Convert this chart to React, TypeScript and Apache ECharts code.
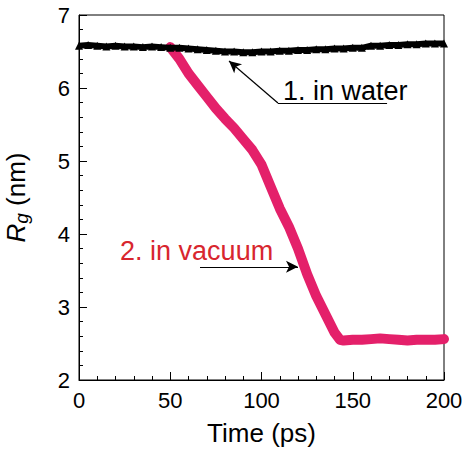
import React, { useEffect, useRef } from "react";
import * as echarts from "echarts";

const waterTime = [0,5,10,15,20,25,30,35,40,45,50,55,60,65,70,75,80,85,90,95,100,105,110,115,120,125,130,135,140,145,150,155,160,165,170,175,180,185,190,195,200];
const waterRg = [6.58,6.59,6.58,6.57,6.58,6.57,6.57,6.56,6.57,6.56,6.55,6.55,6.54,6.53,6.52,6.51,6.50,6.50,6.49,6.49,6.50,6.50,6.51,6.51,6.52,6.52,6.53,6.53,6.54,6.54,6.55,6.55,6.58,6.58,6.59,6.59,6.60,6.60,6.61,6.61,6.61];

const vacuumTime = [50,55,60,65,70,75,80,85,90,95,100,105,110,115,120,125,130,135,140,143,145,150,155,160,165,170,175,180,185,190,195,200];
const vacuumRg = [6.56,6.40,6.20,6.04,5.88,5.72,5.58,5.45,5.30,5.15,4.95,4.65,4.35,4.10,3.80,3.45,3.15,2.90,2.65,2.55,2.54,2.55,2.55,2.56,2.57,2.56,2.55,2.54,2.55,2.55,2.55,2.56];

const xTicks = [0, 50, 100, 150, 200];
const yTicks = [2, 3, 4, 5, 6, 7];

const FONT = "'Liberation Sans', Arial, Helvetica, sans-serif";

export default function App() {
  const ref = useRef<HTMLDivElement>(null);
  useEffect(() => {
    if (!ref.current) return;
    const chart = echarts.init(ref.current, null, { renderer: "svg" });
    const water = waterTime.map((t, i) => [t, waterRg[i]]);
    const vacuum = vacuumTime.map((t, i) => [t, vacuumRg[i]]);
    chart.setOption({
      animation: false,
      backgroundColor: "#fff",
      textStyle: { fontFamily: FONT },
      grid: {
        left: 79, top: 15, right: 24, bottom: 70,
        outerBoundsMode: "none",
        containLabel: false,
        show: true, borderColor: "#000", borderWidth: 1, backgroundColor: "transparent",
      },
      xAxis: {
        type: "value",
        min: xTicks[0],
        max: xTicks[xTicks.length - 1],
        interval: 50,
        name: "Time (ps)",
        nameLocation: "middle",
        nameGap: 40,
        nameTextStyle: { fontSize: 26, color: "#000", fontFamily: FONT },
        axisLine: { show: true, lineStyle: { color: "#000", width: 1 } },
        axisTick: { show: true, inside: true, length: 8, lineStyle: { color: "#000" } },
        minorTick: { show: true, splitNumber: 5, length: 4, lineStyle: { color: "#000" } },
        splitLine: { show: false },
        axisLabel: { fontSize: 22, color: "#000", margin: 9, fontFamily: FONT },
      },
      yAxis: {
        type: "value",
        min: yTicks[0],
        max: yTicks[yTicks.length - 1],
        interval: 1,
        name: "{r|R}{g|g}{n| (nm)}",
        nameLocation: "middle",
        nameRotate: 90,
        nameGap: 48,
        nameTextStyle: {
          color: "#000",
          fontFamily: FONT,
          rich: {
            r: { fontSize: 26, fontStyle: "italic", fontFamily: FONT, lineHeight: 30, color: "#000" },
            g: { fontSize: 19, fontStyle: "italic", fontFamily: FONT, lineHeight: 18, verticalAlign: "bottom", color: "#000" },
            n: { fontSize: 26, fontFamily: FONT, lineHeight: 30, color: "#000" },
          },
        },
        axisLine: { show: true, lineStyle: { color: "#000", width: 1 } },
        axisTick: { show: true, inside: true, length: 8, lineStyle: { color: "#000" } },
        minorTick: { show: true, splitNumber: 5, length: 4, lineStyle: { color: "#000" } },
        splitLine: { show: false },
        axisLabel: { fontSize: 22, color: "#000", margin: 9, fontFamily: FONT },
      },
      series: [
        {
          type: "line",
          data: water,
          lineStyle: { color: "#000", width: 6 },
          itemStyle: { color: "#000" },
          symbol: "triangle",
          symbolSize: 8,
          showSymbol: true,
          silent: true,
          z: 3,
          markLine: {
            silent: true,
            animation: false,
            label: { show: false },
            lineStyle: { color: "#000", width: 1.2, type: "solid" },
            symbolSize: [9, 12],
            data: [
              [{ coord: [168.8, 5.795], symbol: "none" }, { coord: [109, 5.795], symbol: "none" }],
              [{ coord: [109, 5.795], symbol: "none" }, { coord: [82.2, 6.37], symbol: "arrow" }],
            ],
          },
        },
        {
          type: "line",
          data: vacuum,
          lineStyle: { color: "#e4206a", width: 10, cap: "round", join: "round" },
          itemStyle: { color: "#e4206a" },
          showSymbol: false,
          symbol: "none",
          silent: true,
          z: 2,
          markLine: {
            silent: true,
            animation: false,
            label: { show: false },
            lineStyle: { color: "#000", width: 1.2, type: "solid" },
            symbolSize: [9, 12],
            data: [
              [{ coord: [66.3, 3.55], symbol: "none" }, { coord: [120, 3.55], symbol: "arrow" }],
            ],
          },
        },
      ],
    });
    const p1 = chart.convertToPixel({ gridIndex: 0 }, [111.8, 5.96]) as number[];
    const p2 = chart.convertToPixel({ gridIndex: 0 }, [22.5, 3.77]) as number[];
    chart.setOption({
      graphic: [
        { type: "text", x: p1[0], y: p1[1], style: { text: "1. in water", fontSize: 27, fontFamily: FONT, fill: "#000", verticalAlign: "middle", align: "left" } },
        { type: "text", x: p2[0], y: p2[1], style: { text: "2. in vacuum", fontSize: 27, fontFamily: FONT, fill: "#d8262e", verticalAlign: "middle", align: "left" } },
      ],
    });
    return () => chart.dispose();
  }, []);
  return <div ref={ref} style={{ position: "fixed", left: 0, top: 0, width: 468, height: 450 }} />;
}
